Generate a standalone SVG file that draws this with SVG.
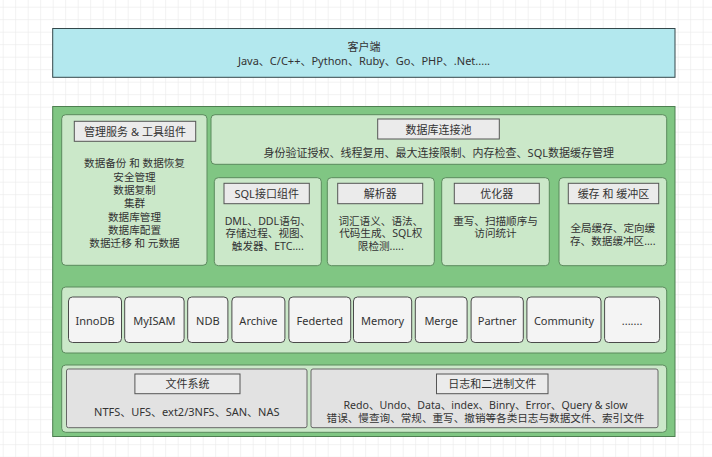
<svg xmlns="http://www.w3.org/2000/svg" width="712" height="457" viewBox="0 0 712 457">
<defs>
<pattern id="grid" x="2.7" y="6.7" width="12.5" height="12.5" patternUnits="userSpaceOnUse">
<path d="M0 0H12.5M0 0V12.5" fill="none" stroke="#e6e6e6" stroke-width="1"/>
</pattern>
<style>
text{font-family:"Segoe UI","Noto Sans","Noto Sans CJK SC",sans-serif;font-size:11px;fill:#333;text-anchor:middle;dominant-baseline:central}
text.b{font-size:10.6px}
.client{fill:#b3e8ee;stroke:#34474a;stroke-width:1}
.main{fill:#80c683;stroke:#4d7f50;stroke-width:1}
.panel{fill:#cbe8c9;stroke:#5b8a5d;stroke-width:1}
.title{fill:#ebebeb;stroke:#555;stroke-width:1}
.eng{fill:#f4f4f4;stroke:#4a4a4a;stroke-width:1}
.gray{fill:#e2e2e2;stroke:#666;stroke-width:1}
</style>
</defs>
<rect width="712" height="457" fill="#fff"/>
<rect width="712" height="457" fill="url(#grid)"/>

<g id="client">
<rect class="client" x="52.7" y="28.5" width="622.3" height="48.8"/>
<text x="364" y="46.5">客户端</text>
<text x="364" y="60">Java、C/C++、Python、Ruby、Go、PHP、.Net.....</text>
</g>

<g id="server">
<rect class="main" x="52.7" y="106.5" width="622.3" height="330"/>
</g>

<g id="management">
<rect class="panel" x="61.7" y="114.7" width="145.3" height="150.6" rx="4"/>
<rect class="title" x="74.3" y="121.3" width="121.4" height="20"/>
<text x="135" y="131.3">管理服务 &amp; 工具组件</text>
<text class="b" x="134.5" y="163.3">数据备份 和 数据恢复</text>
<text class="b" x="134.5" y="176.6">安全管理</text>
<text class="b" x="134.5" y="189.9">数据复制</text>
<text class="b" x="134.5" y="203.2">集群</text>
<text class="b" x="134.5" y="216.5">数据库管理</text>
<text class="b" x="134.5" y="229.8">数据库配置</text>
<text class="b" x="134.5" y="243.1">数据迁移 和 元数据</text>
</g>

<g id="pool">
<rect class="panel" x="211" y="114.7" width="455.7" height="49.6" rx="4"/>
<rect class="title" x="377.7" y="119" width="121.6" height="20"/>
<text x="438.5" y="129">数据库连接池</text>
<text x="438.8" y="152.7">身份验证授权、线程复用、最大连接限制、内存检查、SQL数据缓存管理</text>
</g>

<g id="sql">
<rect class="panel" x="214.3" y="177.7" width="107" height="88" rx="4"/>
<rect class="title" x="224" y="183.3" width="85.3" height="20.4"/>
<text x="266.7" y="193.5">SQL接口组件</text>
<text class="b" x="267.8" y="220.5">DML、DDL语句、</text>
<text class="b" x="267.8" y="233.3">存储过程、视图、</text>
<text class="b" x="267.8" y="246.1">触发器、ETC....</text>
</g>

<g id="parser">
<rect class="panel" x="327.3" y="177.7" width="107" height="88" rx="4"/>
<rect class="title" x="337.7" y="183.3" width="85" height="20.4"/>
<text x="380.2" y="193.5">解析器</text>
<text class="b" x="380.8" y="220.5">词汇语义、语法、</text>
<text class="b" x="380.8" y="233.3">代码生成、SQL权</text>
<text class="b" x="380.8" y="246.1">限检测.....</text>
</g>

<g id="optimizer">
<rect class="panel" x="441.7" y="177.7" width="107.6" height="88" rx="4"/>
<rect class="title" x="454.3" y="183.3" width="85" height="20.4"/>
<text x="496.8" y="193.5">优化器</text>
<text class="b" x="495.5" y="220.5">重写、扫描顺序与</text>
<text class="b" x="495.5" y="233.3">访问统计</text>
</g>

<g id="cache">
<rect class="panel" x="559" y="177.7" width="107.7" height="88" rx="4"/>
<rect class="title" x="568.3" y="183.3" width="90.4" height="20.4"/>
<text x="613.5" y="193.5">缓存 和 缓冲区</text>
<text class="b" x="612.8" y="227.5">全局缓存、定向缓</text>
<text class="b" x="612.8" y="240.8">存、数据缓冲区....</text>
</g>

<g id="engines">
<rect class="panel" x="61.7" y="287" width="605" height="66" rx="4"/>
<g id="innodb"><rect class="eng" x="68.5" y="297" width="53" height="45.5" rx="4"/><text x="95" y="320">InnoDB</text></g>
<g id="myisam"><rect class="eng" x="124.7" y="297" width="59.4" height="45.5" rx="4"/><text x="154.4" y="320">MyISAM</text></g>
<g id="ndb"><rect class="eng" x="187.7" y="297" width="40.2" height="45.5" rx="4"/><text x="207.8" y="320">NDB</text></g>
<g id="archive"><rect class="eng" x="231.9" y="297" width="53" height="45.5" rx="4"/><text x="258.4" y="320">Archive</text></g>
<g id="federted"><rect class="eng" x="288.9" y="297" width="61.8" height="45.5" rx="4"/><text x="319.8" y="320">Federted</text></g>
<g id="memory"><rect class="eng" x="353.5" y="297" width="58.2" height="45.5" rx="4"/><text x="382.6" y="320">Memory</text></g>
<g id="merge"><rect class="eng" x="415.3" y="297" width="51.8" height="45.5" rx="4"/><text x="441.2" y="320">Merge</text></g>
<g id="partner"><rect class="eng" x="471.1" y="297" width="52.2" height="45.5" rx="4"/><text x="497.2" y="320">Partner</text></g>
<g id="community"><rect class="eng" x="526.9" y="297" width="74.1" height="45.5" rx="4"/><text x="564" y="320">Community</text></g>
<g id="more"><rect class="eng" x="604.6" y="297" width="55" height="45.5" rx="4"/><text x="632.1" y="320">.......</text></g>
</g>

<g id="storage">
<rect class="panel" x="61.7" y="365" width="605" height="67.3" rx="4"/>
</g>

<g id="filesystem">
<rect class="gray" x="66.5" y="369" width="240.5" height="58.7" rx="2"/>
<rect class="title" x="134.9" y="374" width="105.1" height="19.7"/>
<text x="187.5" y="383.8">文件系统</text>
<text x="186.8" y="411">NTFS、UFS、ext2/3NFS、SAN、NAS</text>
</g>

<g id="logs">
<rect class="gray" x="311" y="369" width="347" height="58.7" rx="2"/>
<rect class="title" x="436.5" y="374" width="111.5" height="19.7"/>
<text x="492.2" y="383.8">日志和二进制文件</text>
<text class="b" x="485.5" y="404.5">Redo、Undo、Data、index、Binry、Error、Query &amp; slow</text>
<text class="b" x="485.5" y="417.8">错误、慢查询、常规、重写、撤销等各类日志与数据文件、索引文件</text>
</g>
</svg>
